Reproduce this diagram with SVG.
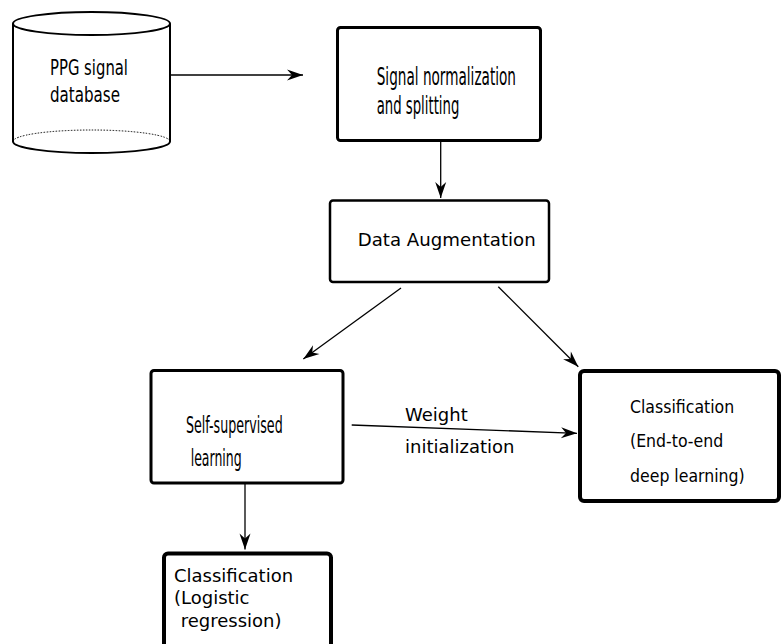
<svg xmlns="http://www.w3.org/2000/svg" width="783" height="644" viewBox="0 0 783 644">
<defs>
<marker id="arr" markerUnits="userSpaceOnUse" markerWidth="20" markerHeight="14" viewBox="-17 -7 18 14" refX="0" refY="0" orient="auto">
<path d="M0,0 L-16,-5.5 L-11,0 L-16,5.5 Z" fill="#000"/>
</marker>
</defs>
<style>
.box{fill:#fff;stroke:#000;}
.t{font-family:"DejaVu Sans","Liberation Sans",sans-serif;font-size:18px;fill:#000;}
.c{font-family:"DejaVu Sans Condensed","DejaVu Sans",sans-serif;fill:#000;}
.con line{stroke:#000;stroke-width:1.3;fill:none;marker-end:url(#arr);}
</style>
<rect width="783" height="644" fill="#fff"/>
<g id="connectors" class="con">
<line x1="170" y1="75" x2="303" y2="75"/>
<line x1="440.7" y1="142" x2="440.7" y2="198"/>
<line x1="401" y1="288" x2="303.3" y2="359"/>
<line x1="498.3" y1="286.7" x2="578.3" y2="366.7"/>
<line x1="351.7" y1="425" x2="577" y2="433.3"/>
<line x1="245" y1="484" x2="245" y2="549.5"/>
</g>
<g id="ppg-db">
<path d="M13,23.5 L13,141.5 A78.5,11.5 0 0 0 170,141.5 L170,23.5" fill="#fff" stroke="#000" stroke-width="2"/>
<ellipse cx="91.5" cy="23.5" rx="78.5" ry="11.5" fill="#fff" stroke="#000" stroke-width="2"/>
<path d="M13,141.5 A78.5,11.5 0 0 1 170,141.5" fill="none" stroke="#000" stroke-width="1" stroke-dasharray="1.5,1.5"/>
<text class="c" font-size="21.5" x="50" y="75" textLength="78" lengthAdjust="spacingAndGlyphs">PPG signal</text>
<text class="c" font-size="21.5" x="50" y="101.7" textLength="70" lengthAdjust="spacingAndGlyphs">database</text>
</g>
<g id="normalization">
<rect class="box" x="337.5" y="27.5" width="203" height="113" rx="3" stroke-width="3"/>
<text class="c" font-size="24" x="376.7" y="85.3" textLength="139.3" lengthAdjust="spacingAndGlyphs">Signal normalization</text>
<text class="c" font-size="24" x="376.7" y="114.3" textLength="82.6" lengthAdjust="spacingAndGlyphs">and splitting</text>
</g>
<g id="augmentation">
<rect class="box" x="330" y="200.5" width="219" height="81.5" rx="3" stroke-width="2.5"/>
<text class="t" x="357.7" y="246" textLength="178" lengthAdjust="spacingAndGlyphs">Data Augmentation</text>
</g>
<g id="self-supervised">
<rect class="box" x="151" y="370.5" width="192" height="112.5" rx="3" stroke-width="3"/>
<text class="c" font-size="23" x="186" y="432.7" textLength="96.7" lengthAdjust="spacingAndGlyphs">Self-supervised</text>
<text class="c" font-size="23" x="190.7" y="466" textLength="51" lengthAdjust="spacingAndGlyphs">learning</text>
</g>
<g id="weight-label">
<text class="t" x="405" y="420.7">Weight</text>
<text class="t" x="405" y="452.7">initialization</text>
</g>
<g id="classification-e2e">
<rect class="box" x="580" y="371" width="199" height="130" rx="4" stroke-width="4"/>
<text class="c" font-size="17.5" x="630" y="413.3">Classification</text>
<text class="c" font-size="17.5" x="630" y="447.3">(End-to-end</text>
<text class="c" font-size="17.5" x="630" y="481.7">deep learning)</text>
</g>
<g id="classification-lr">
<rect class="box" x="164" y="553.5" width="167" height="110" rx="4" stroke-width="4"/>
<text class="t" x="174" y="581.7">Classification</text>
<text class="t" x="174" y="604.3">(Logistic</text>
<text class="t" x="180.7" y="627.3">regression)</text>
</g>
</svg>
